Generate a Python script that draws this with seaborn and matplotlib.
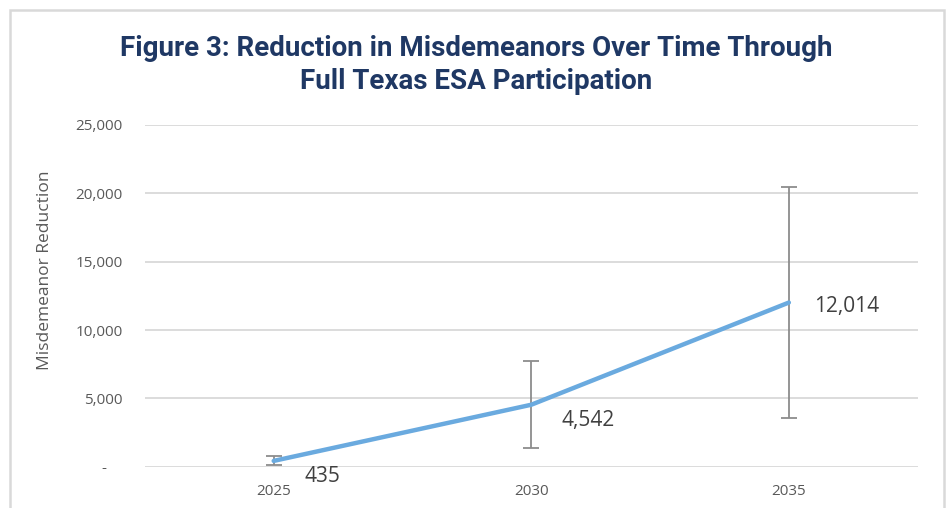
import numpy as np
import pandas as pd
import matplotlib
matplotlib.use('Agg')
import matplotlib.pyplot as plt
import seaborn as sns
from matplotlib import font_manager
from matplotlib.patches import Rectangle

# data
years = ['2025', '2030', '2035']
reduction = [435, 4542, 12014]
low = [100, 1370, 3600]
high = [800, 7750, 20450]
data_labels = ['435', '4,542', '12,014']
ytick_vals = [0, 5000, 10000, 15000, 20000, 25000]
ytick_labels = ['-    ', '5,000', '10,000', '15,000', '20,000', '25,000']

df = pd.DataFrame({'Year': years, 'Reduction': reduction})

sns.set_theme(style='white')
names = {f.name for f in font_manager.fontManager.ttflist}
plt.rcParams['font.family'] = ['Open Sans', 'DejaVu Sans']
title_font = 'Liberation Sans Narrow' if 'Liberation Sans Narrow' in names else 'Roboto'

fig = plt.figure(figsize=(9.47, 5.08), dpi=100)
ax = fig.add_axes([0.153, 0.081, 0.816, 0.673])

# light grey frame round the chart (no bottom edge, cut off)
fig.patches.append(Rectangle((9.5 / 947, -0.1), (944 - 9.5) / 947, 1.1 - 10 / 508,
                             transform=fig.transFigure, fill=False,
                             edgecolor='#d9d9d9', linewidth=1.8))

sns.lineplot(data=df, x='Year', y='Reduction', ax=ax, color='#6aaadf',
             linewidth=3.2, sort=False, zorder=3)

# error bars
yerr = np.array([np.array(reduction) - np.array(low),
                 np.array(high) - np.array(reduction)])
ax.errorbar(np.arange(len(years)), reduction, yerr=yerr, fmt='none',
            ecolor='#8c8c8c', elinewidth=1.3, capsize=6, capthick=1.3, zorder=2)

# data labels
offsets = [(22, -11), (22, -11), (18, -3)]
for i, (val, lab) in enumerate(zip(reduction, data_labels)):
    ax.annotate(lab, (i, val), xytext=offsets[i], textcoords='offset points',
                ha='left', va='center', fontsize=15, color='#404040')

ax.set_xlim(-0.5, 2.5)
ax.set_ylim(0, 25000)
ax.set_yticks(ytick_vals)
ax.set_yticklabels(ytick_labels)
ax.yaxis.grid(True, color='#dcdcdc', linewidth=1.4)
ax.set_axisbelow(True)
for s in ax.spines.values():
    s.set_visible(False)
ax.tick_params(axis='both', length=0, labelsize=11, labelcolor='#595959')
ax.tick_params(axis='y', pad=16)
ax.tick_params(axis='x', pad=12)
ax.set_xlabel('')
ax.set_ylabel('Misdemeanor Reduction', fontsize=12.5, color='#595959')
ax.yaxis.set_label_coords(-0.119, 0.576)

fig.text(0.503, 0.905, 'Figure 3: Reduction in Misdemeanors Over Time Through',
         ha='center', va='center', fontsize=20, fontweight='bold',
         color='#1f3864', family=title_font)
fig.text(0.503, 0.839, 'Full Texas ESA Participation',
         ha='center', va='center', fontsize=20, fontweight='bold',
         color='#1f3864', family=title_font)

fig.savefig('out.png', dpi=100)
